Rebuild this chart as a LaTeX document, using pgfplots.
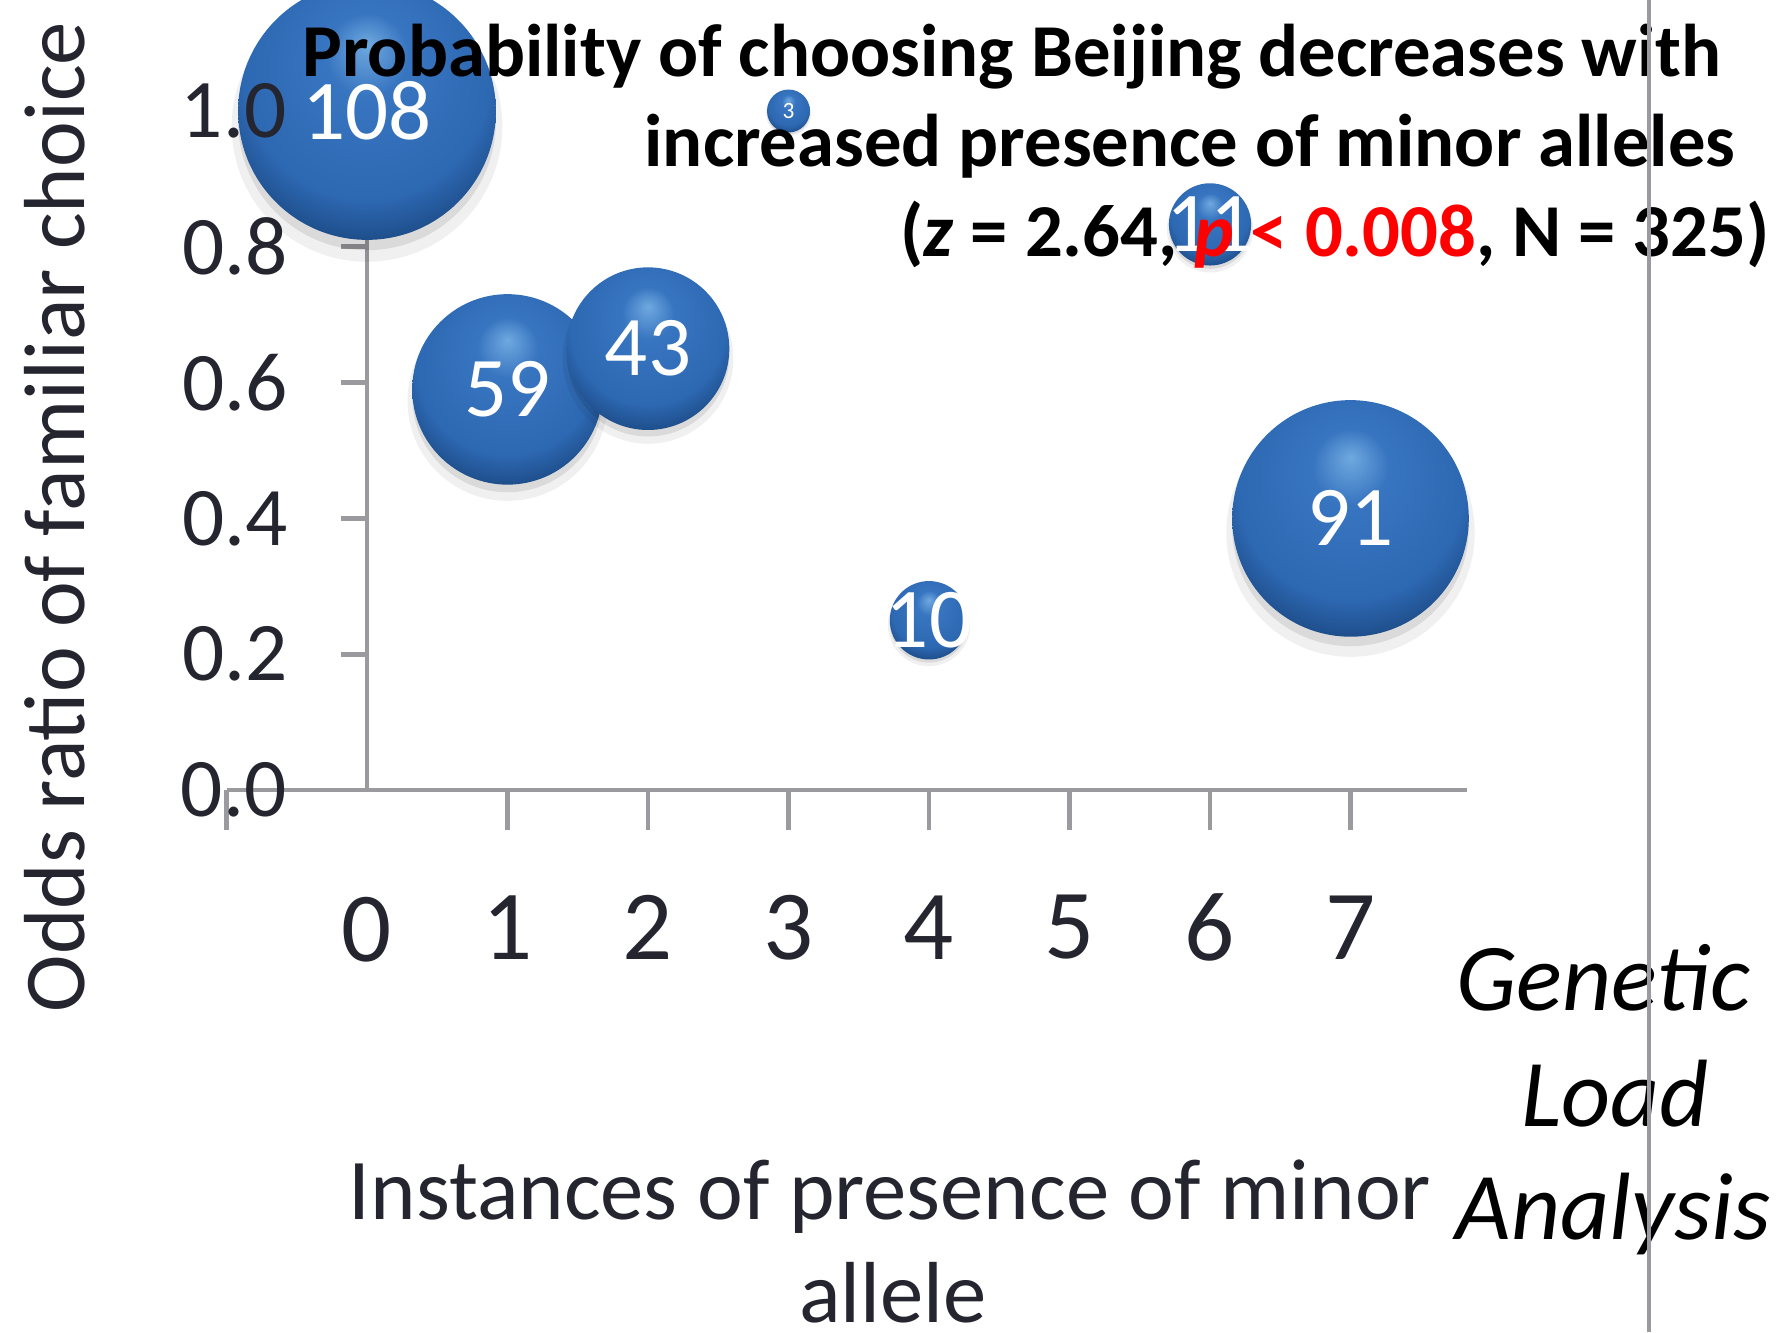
\documentclass[border=0pt]{standalone}
\usepackage{fontspec}
\setmainfont{Carlito}
\usepackage{pgfplots}
\pgfplotsset{compat=1.18}

\definecolor{axisgray}{HTML}{9B9B9F}
\definecolor{txt}{HTML}{25252F}
\definecolor{bubA}{HTML}{6FA9E0}
\definecolor{bubB}{HTML}{3875C0}
\definecolor{bubC}{HTML}{2D68B2}
\definecolor{bubD}{HTML}{1A4780}
\definecolor{pred}{HTML}{FF0000}

% glossy bubble: light top, dark rim, soft shadow below
\pgfdeclareradialshading{bubbleshade}{\pgfpoint{0bp}{13bp}}{%
  color(0bp)=(bubA); color(8bp)=(bubB); color(24bp)=(bubC);
  color(32bp)=(bubD); color(50bp)=(bubD)}
\pgfdeclareplotmark{bubble}{%
  \begin{pgfscope}
    \pgfsetfillcolor{black}\pgfsetfillopacity{0.06}%
    \pgfpathcircle{\pgfpoint{0pt}{-0.12\pgfplotmarksize}}{1.05\pgfplotmarksize}%
    \pgfusepath{fill}%
    \pgfsetfillopacity{0.09}%
    \pgfpathcircle{\pgfpoint{0pt}{-0.08\pgfplotmarksize}}{1.0\pgfplotmarksize}%
    \pgfusepath{fill}%
  \end{pgfscope}%
  \pgfpathcircle{\pgfpointorigin}{\pgfplotmarksize}%
  \pgfshadepath{bubbleshade}{0}%
  \pgfusepath{discard}}

\pgfplotstableread{
x y n
0 1.00 108
1 0.59 59
2 0.65 43
3 1.00 3
4 0.25 10
6 0.833 11
7 0.40 91
}\bubbles

\begin{document}
\begin{tikzpicture}
\begin{axis}[
  x=42.15pt, y=203.7pt,
  xmin=-1, xmax=7.83, ymin=0, ymax=1,
  axis lines=center,
  axis line style={-, draw=axisgray, line width=1.4pt},
  clip=false,
  xtick={-1,0,...,7}, xticklabels={{},0,1,2,3,4,5,6,7},
  ytick={0,0.2,0.4,0.6,0.8,1.0}, yticklabels={0.0,0.2,0.4,0.6,0.8,{}},
  tick align=outside,
  tick style={draw=axisgray, line width=1.4pt},
  xtick style={/pgfplots/major tick length=12pt},
  ytick style={/pgfplots/major tick length=7.8pt},
  xticklabel style={font=\fontsize{29.7}{30}\selectfont, text=txt, anchor=center, inner sep=0pt, yshift=-36.9pt},
  yticklabel style={font=\fontsize{25}{25}\selectfont, text=txt, anchor=east, inner sep=0pt, xshift=-19.2pt},
  /pgf/number format/assume math mode=true,
]
% bubbles: radius grows with the square root of the count
\addplot[scatter, only marks, mark=bubble,
  point meta=explicit,
  visualization depends on={3.72*sqrt(\thisrow{n}) \as \bubrad},
  scatter/@pre marker code/.append style={/tikz/mark size=\bubrad pt},
  scatter/@post marker code/.append style={},
] table[x=x, y=y, meta=n] {\bubbles};

% counts written on the bubbles
\addplot[draw=none, mark=none, point meta=explicit,
  nodes near coords,
  nodes near coords style={anchor=center, text=white, inner sep=0pt,
    font=\fontsize{25.5}{25.5}\selectfont},
] table[x=x, y=y, meta=n] {
x y n
0 1.00 108
1 0.59 59
2 0.65 43
4 0.25 10
6 0.833 11
7 0.40 91
};
\addplot[draw=none, mark=none, point meta=explicit,
  nodes near coords,
  nodes near coords style={anchor=center, text=white, inner sep=0pt,
    font=\fontsize{7}{7}\selectfont},
] table[x=x, y=y, meta=n] {
x y n
3 1.00 3
};

% labels at the origin, which centred axis lines leave out
\node[anchor=center, inner sep=0pt, text=txt, font=\fontsize{29.7}{30}\selectfont,
  yshift=-42pt] at (axis cs:0,0) {0};
\node[anchor=east, inner sep=0pt, text=txt, font=\fontsize{25}{25}\selectfont,
  xshift=-24pt] at (axis cs:0,0) {0.0};

\coordinate (Ytop) at (axis cs:0,1);
\coordinate (TL) at (axis cs:-2.6121,1.16348);
\coordinate (BR) at (axis cs:10.0783,-0.79823);
\end{axis}

% top y label, set over the largest bubble
\node[anchor=east, inner sep=0pt, text=txt, font=\fontsize{25}{25}\selectfont,
  xshift=-24pt] at (Ytop) {1.0};

% annotations in a pixel-based frame (origin top-left)
\begin{scope}[shift={(TL)}, x=0.3pt, y=-0.3pt]
  \node[rotate=90, anchor=center, text=txt, font=\fontsize{26}{26}\selectfont]
    at (55,517) {Odds ratio of familiar choice};
  \node[anchor=base, text=txt, font=\fontsize{26}{26}\selectfont]
    at (890,1219) {Instances of presence of minor};
  \node[anchor=base, text=txt, font=\fontsize{26}{26}\selectfont]
    at (893,1322) {allele};
  \node[anchor=base, font=\bfseries\fontsize{22.4}{23}\selectfont]
    at (1012,77) {Probability of choosing Beijing decreases with};
  \node[anchor=base, font=\bfseries\fontsize{22.4}{23}\selectfont]
    at (1190,166) {increased presence of minor alleles};
  \node[anchor=base, font=\bfseries\fontsize{22.4}{23}\selectfont]
    at (1335,256) {(\textit{z} = 2.64, \textcolor{pred}{\textit{p} < 0.008}, N = 325)};
  \node[anchor=base, font=\itshape\fontsize{28.7}{29}\selectfont]
    at (1603,1010) {Genetic};
  \node[anchor=base, font=\itshape\fontsize{28.7}{29}\selectfont]
    at (1615,1126) {Load};
  \node[anchor=base, font=\itshape\fontsize{28.7}{29}\selectfont]
    at (1613,1239) {Analysis};
  \draw[axisgray, line width=1.2pt] (1649,0) -- (1649,1332);
\end{scope}
\pgfresetboundingbox
\useasboundingbox (TL) rectangle (BR);
\end{tikzpicture}
\end{document}
